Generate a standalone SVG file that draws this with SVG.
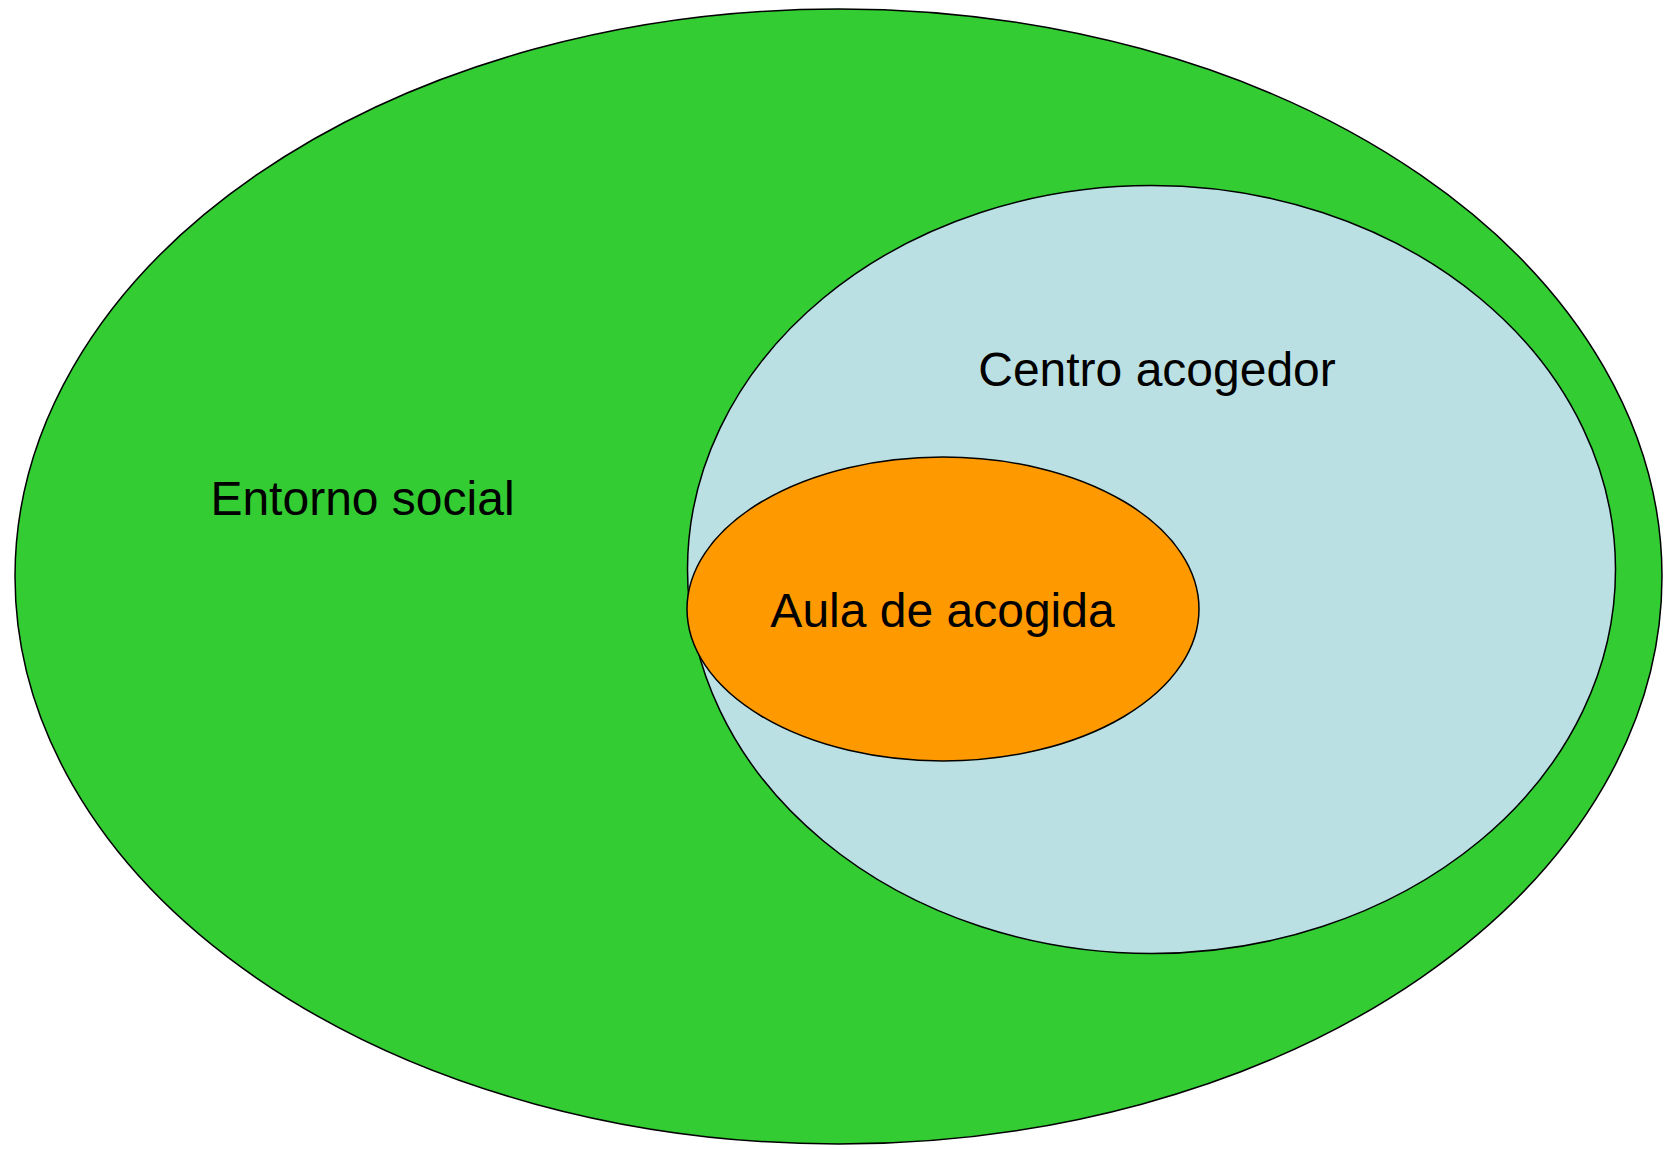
<svg xmlns="http://www.w3.org/2000/svg" width="1664" height="1149" viewBox="0 0 1664 1149">
<style>
.e{stroke:#000;stroke-width:1.5}
.t{font-family:"Liberation Sans",Arial,sans-serif;font-size:48px;fill:#000;text-anchor:middle}
</style>
<rect width="1664" height="1149" fill="#fff"/>
<g id="entorno">
<ellipse class="e" cx="838.5" cy="576.5" rx="823.5" ry="567.5" fill="#33cc33"/>
<text class="t" x="362.5" y="515">Entorno social</text>
</g>
<g id="centro">
<ellipse class="e" cx="1151.5" cy="569.5" rx="464" ry="384" fill="#bbe0e3"/>
<text class="t" x="1157" y="386">Centro acogedor</text>
</g>
<g id="aula">
<ellipse class="e" cx="943" cy="609" rx="256" ry="152" fill="#ff9900"/>
<text class="t" x="942.5" y="627">Aula de acogida</text>
</g>
<g id="connectors"/>
</svg>
